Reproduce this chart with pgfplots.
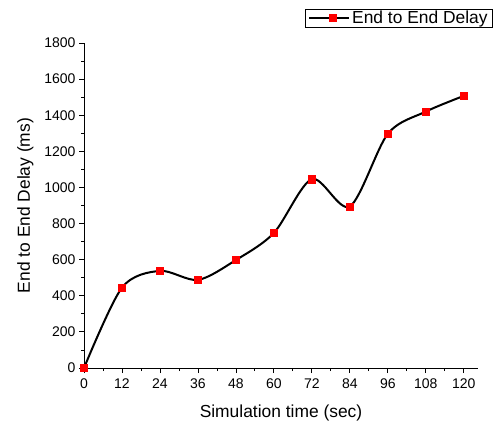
\documentclass[border=0pt]{standalone}
\usepackage{pgfplots}
\pgfplotsset{compat=1.18}
\usepackage{fontspec}
\setmainfont{Liberation Sans}
\begin{document}
\begin{tikzpicture}[x=1pt,y=1pt]
\path[use as bounding box] (0,0) rectangle (495,421);
\begin{axis}[
  at={(84pt,53pt)}, anchor=south west,
  scale only axis, width=394pt, height=325pt,
  xmin=0, xmax=124.5, ymin=0, ymax=1800,
  axis lines=left, axis line style={-, line width=1pt},
  xtick={0,12,...,120}, ytick={0,200,...,1800},
  minor x tick num=1, minor y tick num=1,
  tick align=outside, major tick length=5pt, minor tick length=3pt,
  tick style={line width=0.8pt, black},
  /pgf/number format/assume math mode=true,
  /pgf/number format/1000 sep={},
  ticklabel style={font=\fontsize{14}{16}\selectfont},
  xticklabel style={yshift=-2pt},
  xlabel={Simulation time (sec)}, ylabel={End to End Delay (ms)},
  label style={font=\fontsize{17.4}{20}\selectfont},
  xlabel style={yshift=-10pt},
  ylabel style={yshift=4pt},
  legend style={at={(1.038,1.105)}, anchor=north east, draw=black, line width=0.8pt,
    font=\fontsize{17.4}{20}\selectfont, inner xsep=3pt, inner ysep=0pt},
  legend cell align=left,
  legend image code/.code={
    \draw[black, line width=2pt] (0pt,0pt) -- (40pt,0pt);
    \path (20pt,0pt) node[draw=red, fill=red, rectangle, minimum size=6pt, inner sep=0pt] {};
  },
  clip=false,
]
\addplot[black, line width=2pt, smooth, tension=0.5,
  mark=square*, mark size=3.6pt, mark options={fill=red, draw=red, line width=0.4pt}]
  coordinates {(0,0) (12,445) (24,538) (36,488) (48,598) (60,748) (72,1046) (84,895) (96,1297) (108,1420) (120,1507)};
\addlegendentry{End to End Delay}
\end{axis}
\end{tikzpicture}
\end{document}
